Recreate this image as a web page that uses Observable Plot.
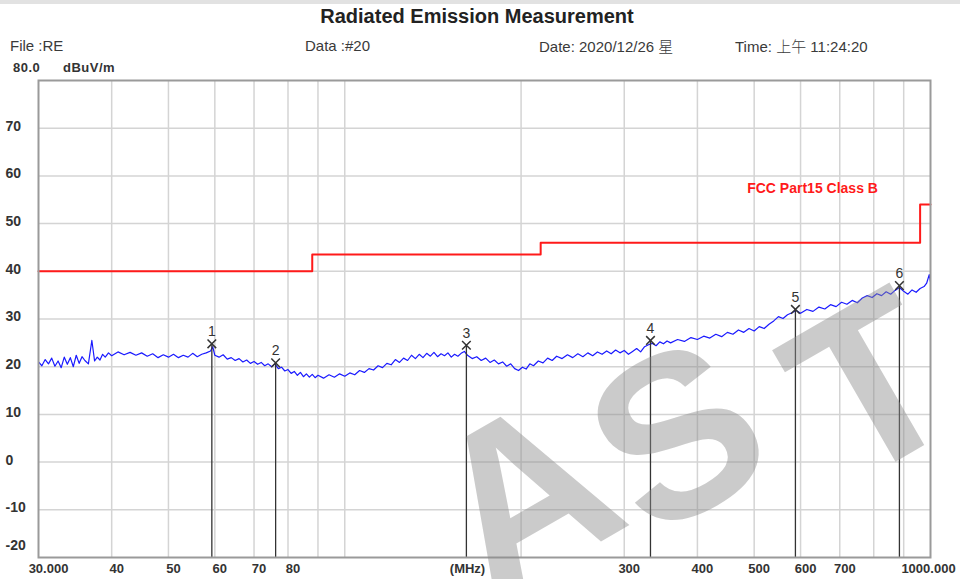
<!DOCTYPE html>
<html>
<head>
<meta charset="utf-8">
<script src="https://cdn.jsdelivr.net/npm/d3@7"></script>
<script src="https://cdn.jsdelivr.net/npm/@observablehq/plot@0.6"></script>
<style>
  body { margin: 0; background: #fff; font-family: "Liberation Sans", Arial, "Noto Sans CJK SC", sans-serif; }
  #wrap { position: relative; width: 960px; height: 579px; overflow: hidden; background: #fff; }
  #band { position: absolute; left: 0; top: 0; width: 960px; height: 4px; background: #e2e2e2; }
  .h { position: absolute; white-space: nowrap; color: #3a3a3a; line-height: 1; }
  #title { left: 0; width: 954px; text-align: center; top: 6px; font-size: 20px; font-weight: bold; color: #222; }
  .meta { top: 38px; font-size: 15px; }
  .cjk { font-family: "Noto Sans CJK SC", sans-serif; font-weight: 300; }
  .unit { top: 61px; font-size: 13px; font-weight: bold; color: #333; letter-spacing: 0.5px; }
  #chart { position: absolute; left: 0; top: 75px; }
  .wm { position: absolute; font-family: "Liberation Sans", Arial, sans-serif; font-weight: bold; font-size: 230px; line-height: 1;
        color: rgba(140,140,140,0.45); pointer-events: none; transform-origin: center center; }
</style>
</head>
<body>
<div id="wrap">
  <div id="band"></div>
  <div class="h" id="title">Radiated Emission Measurement</div>
  <div class="h meta" style="left:10px">File :RE</div>
  <div class="h meta" style="left:305px">Data :#20</div>
  <div class="h meta" style="left:539px">Date: 2020/12/26 <span class="cjk">星</span></div>
  <div class="h meta" style="left:735px">Time: <span class="cjk">上午</span> 11:24:20</div>
  <div class="h unit" style="left:13px">80.0</div>
  <div class="h unit" style="left:63px">dBuV/m</div>
  <div id="chart"></div>
  <div class="wm" style="left:440px; top:380px; transform: rotate(-30deg);">A</div>
  <div class="wm" style="left:600px; top:320px; transform: rotate(-30deg);">S</div>
  <div class="wm" style="left:800px; top:270px; transform: rotate(-30deg);">T</div>
</div>
<script>
// ---- data ----
const traceFreq = [30,30.4,30.8,31.2,31.6,32,32.4,32.8,33.2,33.6,34,34.4,34.8,35.2,35.6,36,36.5,37,37.4,37.8,38.2,38.6,39,39.5,
  40,41,42,43,44,45,46,47,48,49,50,51,52,53,54,55,56,57,58,59,59.5,60,61,62,63,64,65,66,67,68,69,70,71,72,73,74,75,76,77,78,79,
  80,81,82,83,84,85,86,87,88,89,90,92,94,96,98,100,102,104,106,108,110,112,114,116,118,120,122,124,126,128,130,132,134,136,138,
  140,142,144,146,148,150,152,154,156,158,160,162,165,168,171,174,177,180,183,186,189,192,195,198,201,204,207,210,214,218,222,226,
  230,235,240,245,250,255,260,265,270,275,280,285,290,295,300,305,310,315,320,325,330,335,340,345,350,355,360,370,380,390,400,
  410,420,430,440,450,460,470,480,490,500,510,520,530,540,550,560,570,580,590,600,615,630,645,660,675,690,705,720,735,750,765,
  780,795,810,825,840,855,870,885,900,915,930,945,960,975,985,995,1000];
const traceLevel = [21.0,20.2,21.5,20.6,21.8,20.1,21.2,19.8,22.0,20.5,21.9,20.0,22.4,20.7,22.1,21.3,20.6,25.5,21.2,22.0,21.4,22.6,22.0,22.9,
  22.3,23.1,22.5,23.0,22.4,22.9,22.2,22.7,21.9,22.5,22.0,22.6,21.9,22.4,22.0,22.8,22.1,22.6,22.9,23.3,24.2,22.4,22.0,22.5,21.6,21.9,21.3,21.7,21.0,21.4,20.7,21.1,20.5,20.9,20.2,20.6,20.0,20.6,19.6,19.9,19.1,
  19.4,18.6,19.0,18.2,18.8,17.9,18.5,17.8,18.4,17.7,18.2,17.6,18.3,17.8,18.5,18.0,18.7,18.3,19.2,18.8,19.6,19.3,20.2,19.8,20.7,20.4,21.5,20.9,21.8,21.3,22.4,21.7,22.6,21.9,22.8,
  22.2,23.0,22.1,22.7,22.3,22.9,22.0,22.6,22.2,22.8,23.2,22.4,21.7,22.1,21.3,21.8,20.9,21.4,20.6,21.0,20.1,20.6,19.6,19.2,19.9,19.5,20.6,20.2,21.2,20.8,21.8,21.3,
  22.2,21.7,22.5,21.9,22.7,22.1,22.9,22.3,23.1,22.6,23.3,22.7,23.5,22.9,23.4,22.6,23.2,23.8,23.1,24.2,24.6,24.9,24.4,25.2,24.8,25.4,25.0,25.7,25.3,26.1,25.7,
  26.4,26.0,26.8,26.3,27.2,26.8,27.7,27.2,28.0,27.5,28.4,28.0,28.9,29.6,30.5,30.1,30.9,31.3,31.8,31.2,32.0,31.6,32.5,32.1,33.0,32.6,33.5,33.1,33.9,33.4,34.4,
  34.9,34.5,35.3,34.9,35.7,35.2,36.0,36.6,35.8,35.2,36.1,35.6,36.4,36.8,37.5,39.3,37.8];

// FCC Part15 Class B limit (step-after)
const limitFreq  = [30, 88, 216, 960, 1000];
const limitLevel = [40, 43.5, 46, 54, 54];

// markers
const markerNum   = ["1","2","3","4","5","6"];
const markerFreq  = [59.3, 76.2, 161.3, 332.6, 588, 885];
const markerLevel = [24.8, 20.8, 24.5, 25.5, 32.0, 37.0];

// ticks and labels
const yTicks = [-10, 0, 10, 20, 30, 40, 50, 60, 70];
const yBottomTick = [-20];
const xGrid = [40,50,60,70,80,90,100,200,300,400,500,600,700,800,900];
const xTickMid = [40,50,60,70,80,300,400,500,600,700];
const xTickFirst = [30];
const xTickLast = [1000];
const xUnitLabel = [{text: "(MHz)", freq: 162}];
const limitLabel = [{text: "FCC Part15 Class B", freq: 629, level: 57.4}];

// ---- build tables ----
const trace = traceFreq.map((f, i) => ({f, v: traceLevel[i]}));
const limit = limitFreq.map((f, i) => ({f, v: limitLevel[i]}));
const markers = markerNum.map((n, i) => ({n, f: markerFreq[i], v: markerLevel[i]}));

const font = "Liberation Sans, Arial, sans-serif";
const tickText = {fontSize: 13, fontWeight: "bold", fill: "#333"};
const chart = Plot.plot({
  width: 960,
  height: 504,
  marginLeft: 38,
  marginRight: 30,
  marginTop: 5,
  marginBottom: 22,
  style: {fontFamily: font, background: "transparent"},
  x: {type: "log", domain: [30, 1000], axis: null},
  y: {domain: [-20, 80], axis: null},
  marks: [
    Plot.gridX(xGrid, {stroke: "#d4d4d4", strokeOpacity: 1, strokeWidth: 1.5}),
    Plot.gridY(yTicks, {stroke: "#d4d4d4", strokeOpacity: 1, strokeWidth: 1.5}),
    Plot.line(limit, {x: "f", y: "v", curve: "step-after", stroke: "#ff1a1a", strokeWidth: 2}),
    Plot.line(trace, {x: "f", y: "v", stroke: "#1a1aff", strokeWidth: 1.2}),
    Plot.ruleX(markers, {x: "f", y1: -20, y2: "v", stroke: "#333", strokeWidth: 1.3}),
    Plot.dot(markers, {x: "f", y: "v", symbol: "times", r: 4, stroke: "#333", strokeWidth: 1.5}),
    Plot.text(markers, {x: "f", y: "v", text: "n", dy: -12, fontSize: 14, fill: "#333"}),
    Plot.text(limitLabel, {x: "freq", y: "level", text: "text", fill: "#ff1a1a", fontSize: 14, fontWeight: "bold"}),
    Plot.frame({stroke: "#9a9a9a", strokeWidth: 2}),
    // y tick labels (left-aligned)
    Plot.text(yTicks, {y: d => d, text: d => String(d), frameAnchor: "left", textAnchor: "start", dx: -33, dy: -2, ...tickText, fontSize: 14}),
    Plot.text(yBottomTick, {y: d => d, text: d => String(d), frameAnchor: "left", textAnchor: "start", dx: -33, dy: -12, ...tickText, fontSize: 14}),
    // x tick labels
    Plot.text(xTickMid, {x: d => d, text: d => String(d), frameAnchor: "bottom", lineAnchor: "top", dy: 6, dx: 5, ...tickText}),
    Plot.text(xTickFirst, {x: d => d, text: d => d.toFixed(3), frameAnchor: "bottom", lineAnchor: "top", dy: 6, dx: 10, ...tickText}),
    Plot.text(xTickLast, {x: d => d, text: d => d.toFixed(3), frameAnchor: "bottom", lineAnchor: "top", dy: 6, dx: -2, ...tickText}),
    Plot.text(xUnitLabel, {x: "freq", text: "text", frameAnchor: "bottom", lineAnchor: "top", dy: 6, ...tickText})
  ]
});
document.getElementById("chart").appendChild(chart);
</script>
</body>
</html>
